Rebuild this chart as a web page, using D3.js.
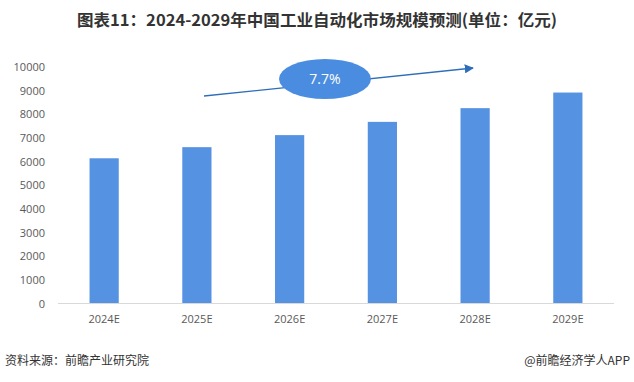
<!DOCTYPE html>
<html><head><meta charset="utf-8">
<script src="https://cdn.jsdelivr.net/npm/d3@7"></script>
<style>body{margin:0;background:#fff}svg{display:block}</style>
</head><body>
<script>
const categories = ["2024E","2025E","2026E","2027E","2028E","2029E"];
const values = [6140, 6610, 7120, 7680, 8260, 8920];
const yTicks = [0,1000,2000,3000,4000,5000,6000,7000,8000,9000,10000];
const cagrLabel = "7.7%";
const titleText = "图表11：2024-2029年中国工业自动化市场规模预测(单位：亿元)";
const sourceText = "资料来源：前瞻产业研究院";
const creditText = "@前瞻经济学人APP";

const W = 634, H = 382;
const svg = d3.select("body").append("svg").attr("width", W).attr("height", H);
const font = "'Noto Sans CJK SC','Noto Sans',sans-serif";

const x = d3.scaleBand().domain(categories).range([58, 614]).paddingInner(0.685).paddingOuter(0.34);
const y = d3.scaleLinear().domain([0, 10000]).range([303.5, 67]);

// title
svg.append("text").attr("x", 317).attr("y", 26).attr("text-anchor", "middle")
  .attr("font-family", font).attr("font-weight", "bold").attr("font-size", 16)
  .attr("fill", "#333").attr("textLength", 480).attr("lengthAdjust", "spacingAndGlyphs").text(titleText);

// y axis (labels only)
const yAxis = d3.axisLeft(y).tickValues(yTicks).tickSize(0).tickPadding(0).tickFormat(d3.format("d"));
const gy = svg.append("g").attr("transform", "translate(45,0)").call(yAxis);
gy.select(".domain").remove();
gy.selectAll("text").attr("font-family", "'Open Sans','Noto Sans',sans-serif").attr("font-size", 11).attr("fill", "#595959");

// bars
svg.append("g").selectAll("rect").data(values).join("rect")
  .attr("x", (d,i) => x(categories[i])).attr("width", x.bandwidth())
  .attr("y", d => y(d)).attr("height", d => y(0) - y(d)).attr("fill", "#5592E1");

// x axis
const xAxis = d3.axisBottom(x).tickSize(0).tickPadding(12);
const gx = svg.append("g").attr("transform", `translate(0,${y(0)})`).call(xAxis);
gx.select(".domain").attr("stroke", "#d9d9d9").attr("d", `M58,0H614`);
gx.selectAll("text").attr("font-family", "'Open Sans','Noto Sans',sans-serif").attr("font-size", 11).attr("fill", "#595959");

// CAGR arrow
const defs = svg.append("defs");
defs.append("marker").attr("id", "arr").attr("viewBox", "0 0 10 10").attr("refX", 9).attr("refY", 5)
  .attr("markerWidth", 7).attr("markerHeight", 7).attr("orient", "auto")
  .append("path").attr("d", "M0,0L10,5L0,10z").attr("fill", "#2E6DB8");
svg.append("line").attr("x1", 204).attr("y1", 96).attr("x2", 473).attr("y2", 68)
  .attr("stroke", "#2E6DB8").attr("stroke-width", 1.3).attr("marker-end", "url(#arr)");
svg.append("ellipse").attr("cx", 325).attr("cy", 79).attr("rx", 46).attr("ry", 20).attr("fill", "#4A8DE0");
svg.append("text").attr("x", 325).attr("y", 84).attr("text-anchor", "middle")
  .attr("font-family", "'Open Sans','Noto Sans',sans-serif").attr("font-size", 14).attr("fill", "#fff").text(cagrLabel);

// footer
svg.append("text").attr("x", 5).attr("y", 365).attr("font-family", font).attr("font-size", 12).attr("fill", "#333").text(sourceText);
svg.append("text").attr("x", 630).attr("y", 365).attr("text-anchor", "end").attr("font-family", font).attr("font-size", 12).attr("fill", "#333").text(creditText);
</script>
</body></html>
